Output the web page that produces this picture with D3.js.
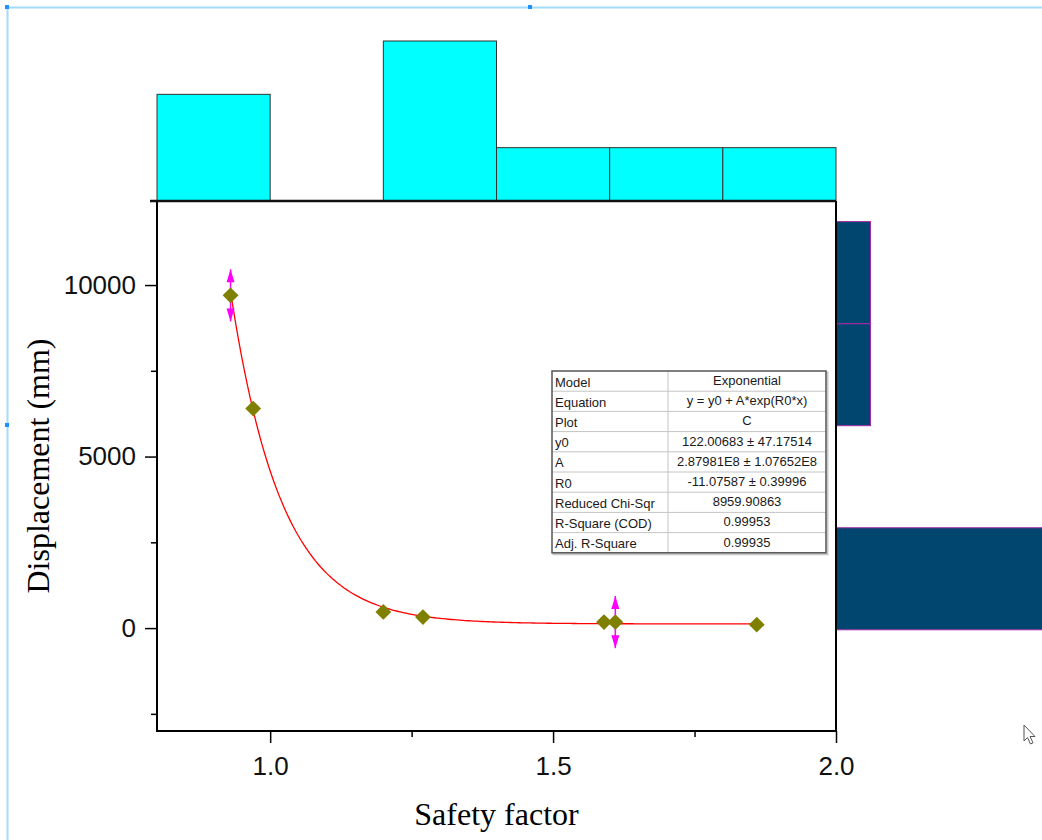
<!DOCTYPE html>
<html>
  <head>
    <meta charset="utf-8">
    <title>Safety factor vs displacement</title>
    <script src="https://cdn.jsdelivr.net/npm/d3@7"></script>
    <style>
      body { margin: 0; background: #fff; }
      svg { display: block; }
      .tick text { font-family: Arial, "Liberation Sans", sans-serif; }
      .title { font-family: "Times New Roman", "Liberation Serif", serif; }
      .cell { font-family: Arial, "Liberation Sans", sans-serif; font-size: 13px; fill: #1a1a1a; }
    </style>
  </head>

  <body>
    <svg id="chart" width="1042" height="840"></svg>

    <script>
      // data
      const safety = [0.93, 0.97, 1.20, 1.27, 1.59, 1.61, 1.86];
      const displacement = [9700, 6400, 470, 320, 175, 175, 100];
      const errorSize = [760, 0, 0, 0, 0, 760, 0];

      // top histogram (safety factor bins)
      const topEdges = [0.8, 1.0, 1.2, 1.4, 1.6, 1.8, 2.0];
      const topCounts = [2, 0, 3, 1, 1, 1];

      // right histogram (displacement bins)
      const sideEdges = [-50, 2925, 5900, 8875, 11850];
      const sideCounts = [6, 0, 1, 1];

      // fit results
      const fitY0 = 122.00683;
      const fitA = 2.87981e8;
      const fitR0 = -11.07587;
      const fitRange = [0.93, 1.86];
      const tableLabels = ["Model", "Equation", "Plot", "y0", "A", "R0", "Reduced Chi-Sqr", "R-Square (COD)", "Adj. R-Square"];
      const tableValues = ["Exponential", "y = y0 + A*exp(R0*x)", "C", "122.00683 \u00b1 47.17514",
        "2.87981E8 \u00b1 1.07652E8", "-11.07587 \u00b1 0.39996", "8959.90863", "0.99953", "0.99935"];

      const xTicks = [1.0, 1.5, 2.0];
      const xMinor = [1.25, 1.75];
      const yTicks = [0, 5000, 10000];
      const yMinor = [-2500, 2500, 7500];

      const svg = d3.select("#chart");

      // frame of the main plot
      const plotL = 157, plotR = 836, plotT = 201, plotB = 731;

      const x = d3.scaleLinear().domain([0.8, 2.0]).range([plotL, plotR]);
      const y = d3.scaleLinear().domain([-3000, 12450]).range([plotB, plotT]);
      const topCount = d3.scaleLinear().domain([0, 3]).range([plotT, 41]);
      const sideCount = d3.scaleLinear().domain([0, 1]).range([plotR, plotR + 34.5]);

      // light blue selection border
      svg.append("path")
        .attr("d", "M7.5,840V7.5H1042")
        .attr("fill", "none")
        .attr("stroke", "#a3dcfb")
        .attr("stroke-width", 2);
      svg.selectAll(".handle")
        .data([[7, 7], [530, 7], [7, 425]])
        .enter().append("rect")
          .attr("x", d => d[0] - 2)
          .attr("y", d => d[1] - 2)
          .attr("width", 4)
          .attr("height", 4)
          .attr("fill", "#1e90ff");

      // top histogram
      svg.selectAll(".topBar")
        .data(topCounts)
        .enter().append("rect")
          .classed("topBar", true)
          .attr("x", (d, i) => x(topEdges[i]))
          .attr("width", (d, i) => x(topEdges[i + 1]) - x(topEdges[i]))
          .attr("y", d => topCount(d))
          .attr("height", d => topCount(0) - topCount(d))
          .attr("fill", "#00ffff")
          .attr("stroke", d => d > 0 ? "#333" : "none")
          .attr("stroke-width", 1);

      // right histogram
      svg.selectAll(".sideBar")
        .data(sideCounts)
        .enter().append("rect")
          .classed("sideBar", true)
          .attr("x", plotR)
          .attr("y", (d, i) => y(sideEdges[i + 1]))
          .attr("height", (d, i) => y(sideEdges[i]) - y(sideEdges[i + 1]))
          .attr("width", d => sideCount(d) - plotR)
          .attr("fill", "#00466f")
          .attr("stroke", d => d > 0 ? "#a52aa5" : "none")
          .attr("stroke-width", 1);

      // axes
      svg.append("g")
        .attr("transform", `translate(0,${plotB})`)
        .call(d3.axisBottom(x).tickValues(xTicks).tickSize(12).tickPadding(14).tickFormat(d3.format(".1f")));
      svg.append("g")
        .attr("transform", `translate(0,${plotB})`)
        .call(d3.axisBottom(x).tickValues(xMinor).tickSize(6).tickFormat(""));
      svg.append("g")
        .attr("transform", `translate(${plotL},0)`)
        .call(d3.axisLeft(y).tickValues(yTicks).tickSize(12).tickPadding(9).tickFormat(d3.format("d")));
      svg.append("g")
        .attr("transform", `translate(${plotL},0)`)
        .call(d3.axisLeft(y).tickValues(yMinor).tickSize(6).tickFormat(""));
      svg.selectAll(".domain").remove();
      svg.selectAll(".tick line").attr("stroke", "#000").attr("stroke-width", 1.5);
      svg.selectAll(".tick text").attr("font-size", 26).attr("fill", "#111");

      // plot frame
      svg.append("path")
        .attr("d", `M${plotL},${plotT}V${plotB}H${plotR}V${plotT}`)
        .attr("fill", "none")
        .attr("stroke", "#000")
        .attr("stroke-width", 2);
      svg.append("line")
        .attr("x1", plotL - 7).attr("x2", plotR)
        .attr("y1", plotT).attr("y2", plotT)
        .attr("stroke", "#111")
        .attr("stroke-width", 2.5);

      // axis titles
      svg.append("text")
        .classed("title", true)
        .attr("x", (plotL + plotR) / 2)
        .attr("y", 825)
        .attr("text-anchor", "middle")
        .attr("font-size", 32)
        .text("Safety factor");
      svg.append("text")
        .classed("title", true)
        .attr("transform", "translate(49,466) rotate(-90)")
        .attr("text-anchor", "middle")
        .attr("font-size", 32)
        .text("Displacement (mm)");

      // fit curve
      const fitX = d3.range(fitRange[0], fitRange[1] + 0.0001, 0.005);
      const line = d3.line()
        .x(d => x(d))
        .y(d => y(fitY0 + fitA * Math.exp(fitR0 * d)));
      svg.append("path")
        .datum(fitX)
        .attr("d", line)
        .attr("fill", "none")
        .attr("stroke", "#ff0000")
        .attr("stroke-width", 1.3);

      // error bars with arrow caps
      const points = safety.map((s, i) => ({x: s, y: displacement[i], e: errorSize[i]}));
      const errors = svg.append("g").selectAll("g")
        .data(points.filter(d => d.e > 0))
        .enter().append("g")
          .attr("fill", "#ff00ff")
          .attr("stroke", "#ff00ff");
      errors.append("line")
        .attr("x1", d => x(d.x)).attr("x2", d => x(d.x))
        .attr("y1", d => y(d.y + d.e)).attr("y2", d => y(d.y - d.e))
        .attr("stroke-width", 1.5);
      errors.append("path")
        .attr("stroke", "none")
        .attr("d", d => {
          let cx = x(d.x), t = y(d.y + d.e), b = y(d.y - d.e);
          return `M${cx},${t}L${cx + 4},${t + 13}L${cx - 4},${t + 13}Z` +
            `M${cx},${b}L${cx + 4},${b - 13}L${cx - 4},${b - 13}Z`;
        });

      // data points
      svg.append("g").selectAll("path")
        .data(points)
        .enter().append("path")
          .attr("d", d3.symbol(d3.symbolSquare, 125))
          .attr("transform", d => `translate(${x(d.x)},${y(d.y)}) rotate(45)`)
          .attr("fill", "#808000");

      // fit parameter table
      const tx = 552, tw = 274, colX = 668, ty = 371, rowH = 20.2;
      const table = svg.append("g");
      table.append("rect")
        .attr("x", tx + 1.5).attr("y", ty + 1.5)
        .attr("width", tw).attr("height", rowH * tableLabels.length)
        .attr("fill", "none").attr("stroke", "#c8c8c8").attr("stroke-width", 2);
      table.append("rect")
        .attr("x", tx).attr("y", ty)
        .attr("width", tw).attr("height", rowH * tableLabels.length)
        .attr("fill", "#fff");
      table.selectAll(".rowLine")
        .data(d3.range(1, tableLabels.length))
        .enter().append("line")
          .attr("x1", tx).attr("x2", tx + tw)
          .attr("y1", d => ty + d * rowH).attr("y2", d => ty + d * rowH)
          .attr("stroke", "#c4c4c4");
      table.append("line")
        .attr("x1", colX).attr("x2", colX)
        .attr("y1", ty).attr("y2", ty + rowH * tableLabels.length)
        .attr("stroke", "#c4c4c4");
      table.append("rect")
        .attr("x", tx).attr("y", ty)
        .attr("width", tw).attr("height", rowH * tableLabels.length)
        .attr("fill", "none").attr("stroke", "#555").attr("stroke-width", 1.5);
      table.selectAll(".label")
        .data(tableLabels)
        .enter().append("text")
          .classed("cell", true)
          .attr("x", tx + 3)
          .attr("y", (d, i) => ty + i * rowH + 15.5)
          .text(d => d);
      table.selectAll(".value")
        .data(tableValues)
        .enter().append("text")
          .classed("cell", true)
          .attr("x", (colX + tx + tw) / 2)
          .attr("y", (d, i) => ty + i * rowH + 14)
          .attr("text-anchor", "middle")
          .text(d => d);

      // mouse pointer left in the screenshot
      svg.append("path")
        .attr("d", "M1024,725v16l3.5,-3.5l3,6.5l2.5,-1.2l-3,-6.3h5z")
        .attr("fill", "#fff")
        .attr("stroke", "#555")
        .attr("stroke-width", 1);
    </script>
  </body>
</html>
